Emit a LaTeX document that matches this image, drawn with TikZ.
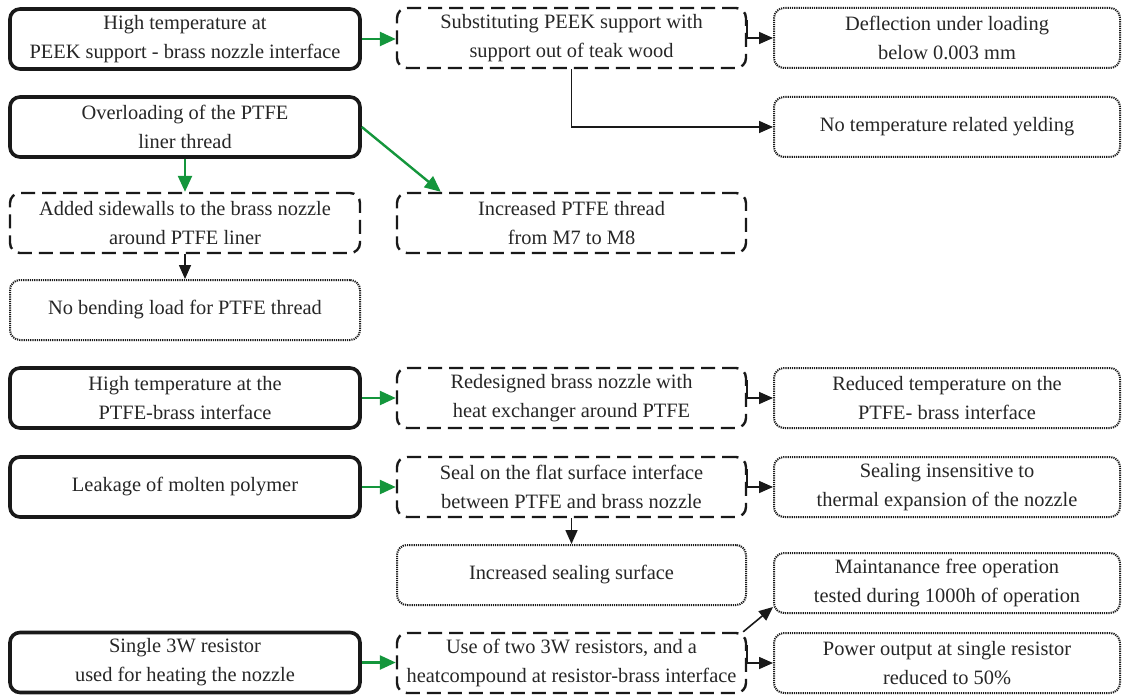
\documentclass[tikz,border=0pt]{standalone}
\usepackage{fontspec}
\setmainfont{Liberation Serif}
\usetikzlibrary{arrows.meta,calc}
\definecolor{grn}{RGB}{20,150,60}
\begin{document}
\begin{tikzpicture}[x=0.5pt,y=-0.5pt,
 box/.style={rounded corners=5pt, minimum height=30pt, inner sep=0pt, align=center, font=\fontsize{10.2}{14.5}\selectfont, text=black!85},
 wl/.style={minimum width=175pt},
 wm/.style={minimum width=174.5pt},
 wr/.style={minimum width=173pt},
 prob/.style={box, draw=black!90, line width=1.8pt},
 sol/.style={box, draw=black!90, line width=1.2pt, dash pattern=on 7pt off 3.5pt},
 res/.style={box, draw=black!90, line width=1pt, dash pattern=on 0.6pt off 0.5pt},
 garr/.style={draw=grn, line width=1.2pt, -{Triangle[length=8pt,width=7pt]}},
 barr/.style={draw=black!90, line width=0.8pt, -{Triangle[length=7pt,width=6pt]}}]
\useasboundingbox (0,0) rectangle (1122,695);

\node[prob,wl] (L1) at (185,39) {High temperature at\\PEEK support - brass nozzle interface};
\node[sol,wm] (M1) at (571.5,38) {Substituting PEEK support with\\support out of teak wood};
\node[res,wr] (R1) at (947,38) {Deflection under loading\\below 0.003 mm};
\node[prob,wl] (L2) at (185,127) {Overloading of the PTFE\\liner thread};
\node[res,wr] (R2) at (947,127) {No temperature related yelding};
\node[sol,wl] (L3) at (185,223) {Added sidewalls to the brass nozzle\\around PTFE liner};
\node[sol,wm] (M2) at (571.5,223) {Increased PTFE thread\\from M7 to M8};
\node[res,wl] (L4) at (185,310) {No bending load for PTFE thread};
\node[prob,wl] (L5) at (185,398) {High temperature at the\\PTFE-brass interface};
\node[sol,wm] (M3) at (571.5,398) {Redesigned brass nozzle with\\heat exchanger around PTFE};
\node[res,wr] (R3) at (947,398) {Reduced temperature on the\\PTFE- brass interface};
\node[prob,wl] (L6) at (185,487) {Leakage of molten polymer};
\node[sol,wm] (M4) at (571.5,487) {Seal on the flat surface interface\\between PTFE and brass nozzle};
\node[res,wr] (R4) at (947,487) {Sealing insensitive to\\thermal expansion of the nozzle};
\node[res,wm] (M5) at (571.5,575) {Increased sealing surface};
\node[res,wr] (R5) at (947,583) {Maintanance free operation\\tested during 1000h of operation};
\node[prob,wl] (L7) at (185,662.5) {Single 3W resistor\\used for heating the nozzle};
\node[sol,wm] (M6) at (571.5,663) {Use of two 3W resistors, and a\\heatcompound at resistor-brass interface};
\node[res,wr] (R6) at (947,663) {Power output at single resistor\\reduced to 50\%};

\coordinate (m2top) at ([xshift=22.5pt]M2.north west);

\draw[garr] (L1.east) -- (L1.east -| M1.west);
\draw[barr] ([yshift=9pt]M1.east) |- (R1.west);
\draw[barr] (M1.south) |- (R2.west);
\draw[garr] (L2.south) -- (L3.north);
\draw[garr] (L2.east) -- (m2top);
\draw[barr] (L3.south) -- (L4.north);
\draw[garr] (L5.east) -- (L5.east -| M3.west);
\draw[barr] ([yshift=9pt]M3.east) |- (R3.west);
\draw[garr] (L6.east) -- (L6.east -| M4.west);
\draw[barr] ([yshift=9pt]M4.east) |- (R4.west);
\draw[barr] (M4.south) -- (M5.north);
\draw[garr] (L7.east) -- (L7.east -| M6.west);
\draw[barr] ([yshift=9pt]M6.east) |- (R6.west);
\draw[barr] ([xshift=-2pt]M6.north east) -- ([yshift=3.5pt]R5.south west);
\end{tikzpicture}
\end{document}
